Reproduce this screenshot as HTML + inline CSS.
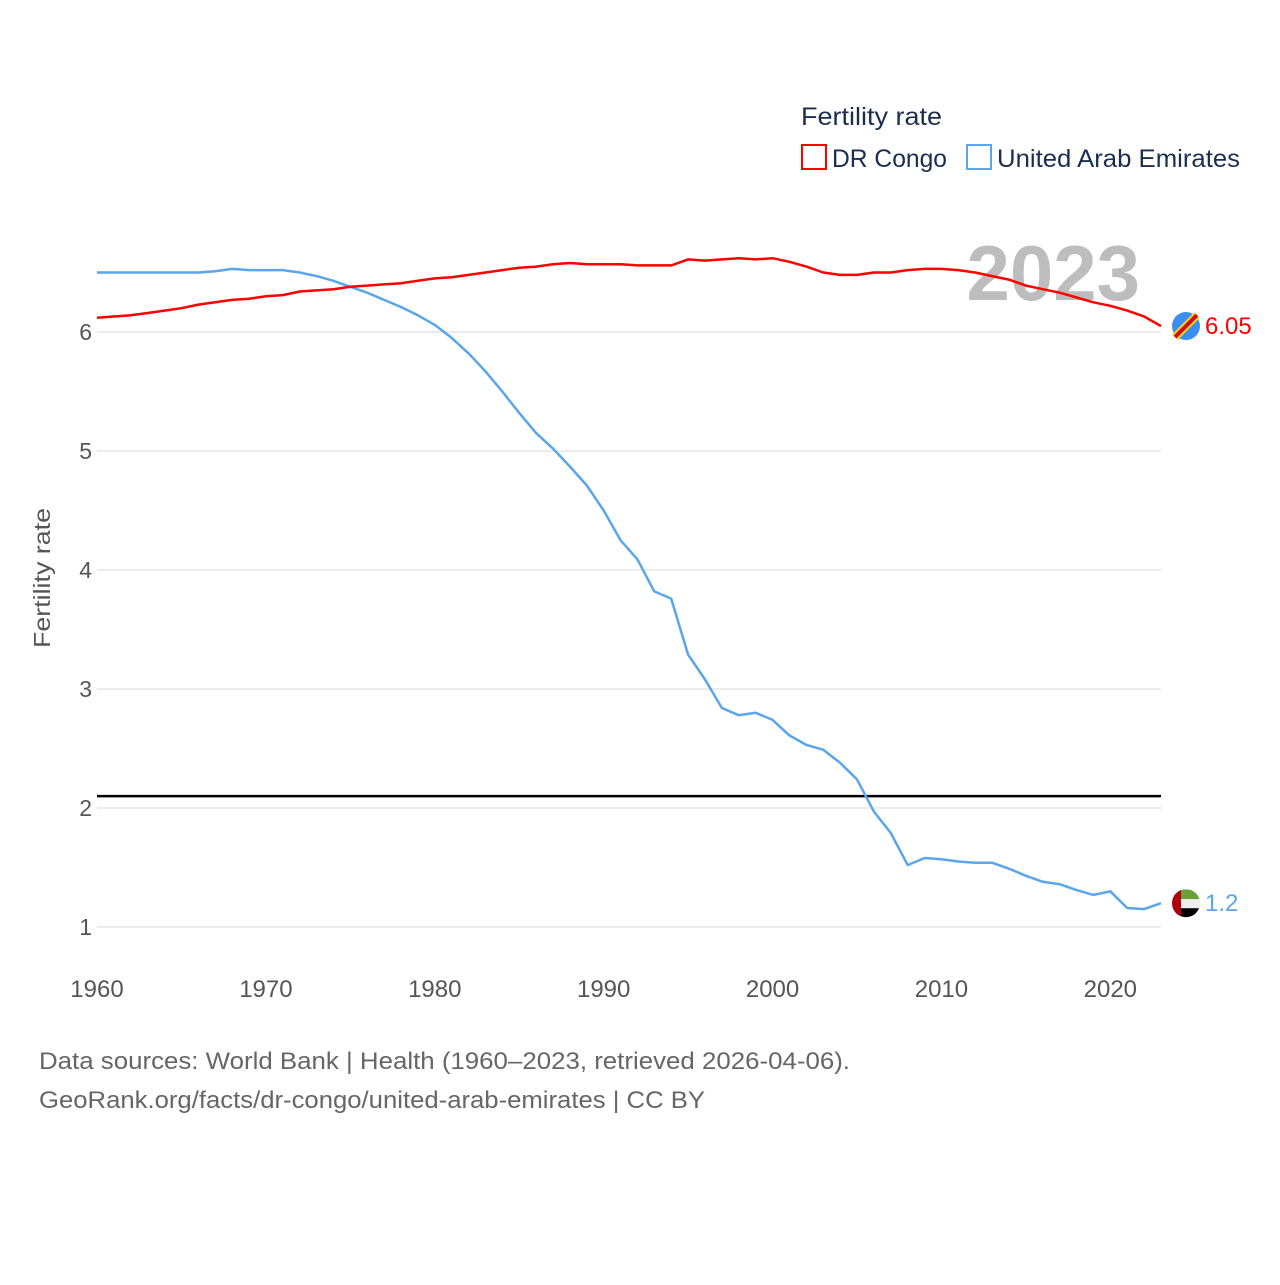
<!DOCTYPE html>
<html><head><meta charset="utf-8"><style>
body{margin:0;background:#fff;font-family:"Liberation Sans",sans-serif;}
svg text{font-family:"Liberation Sans",sans-serif;}
</style></head><body>
<svg id="chart" width="1280" height="1280" viewBox="0 0 1280 1280" xmlns="http://www.w3.org/2000/svg">
<text x="801" y="125" font-size="25" fill="#1a2e4f" textLength="141" lengthAdjust="spacingAndGlyphs">Fertility rate</text>
<rect x="802" y="145" width="24" height="24" fill="none" stroke="#ff0000" stroke-width="2"/>
<text x="832" y="167" font-size="25" fill="#1a2e4f" textLength="115" lengthAdjust="spacingAndGlyphs">DR Congo</text>
<rect x="967" y="145" width="24" height="24" fill="none" stroke="#5aa6ec" stroke-width="2"/>
<text x="997" y="167" font-size="25" fill="#1a2e4f" textLength="243" lengthAdjust="spacingAndGlyphs">United Arab Emirates</text>
<text x="1140" y="300" font-size="78" font-weight="bold" fill="#bdbdbd" text-anchor="end">2023</text>
<g id="grid"></g><g id="series"></g>
<text transform="translate(50,578) rotate(-90)" font-size="23" fill="#555" text-anchor="middle" textLength="140" lengthAdjust="spacingAndGlyphs">Fertility rate</text>
<text x="39" y="1069" font-size="24" fill="#666" textLength="811" lengthAdjust="spacingAndGlyphs">Data sources: World Bank | Health (1960–2023, retrieved 2026-04-06).</text>
<text x="39" y="1108" font-size="24" fill="#666" textLength="666" lengthAdjust="spacingAndGlyphs">GeoRank.org/facts/dr-congo/united-arab-emirates | CC BY</text>
</svg>
<script>
const years=[];for(let y=1960;y<=2023;y++)years.push(y);
const drCongo=[6.12,6.13,6.14,6.16,6.18,6.20,6.23,6.25,6.27,6.28,6.30,6.31,6.34,6.35,6.36,6.38,6.39,6.40,6.41,6.43,6.45,6.46,6.48,6.50,6.52,6.54,6.55,6.57,6.58,6.57,6.57,6.57,6.56,6.56,6.56,6.61,6.60,6.61,6.62,6.61,6.62,6.59,6.55,6.50,6.48,6.48,6.50,6.50,6.52,6.53,6.53,6.52,6.50,6.47,6.44,6.39,6.36,6.33,6.29,6.25,6.22,6.18,6.13,6.05];
const uae=[6.50,6.50,6.50,6.50,6.50,6.50,6.50,6.51,6.53,6.52,6.52,6.52,6.50,6.47,6.43,6.38,6.33,6.27,6.21,6.14,6.06,5.95,5.82,5.67,5.50,5.32,5.15,5.02,4.87,4.71,4.50,4.25,4.09,3.82,3.76,3.29,3.08,2.84,2.78,2.80,2.74,2.61,2.53,2.49,2.38,2.24,1.97,1.79,1.52,1.58,1.57,1.55,1.54,1.54,1.49,1.43,1.38,1.36,1.31,1.27,1.30,1.16,1.15,1.20];
const yTicks=[1,2,3,4,5,6];
const xTicks=[1960,1970,1980,1990,2000,2010,2020];
const replacement=2.1;
const NS="http://www.w3.org/2000/svg";
const X=v=>97+(v-1960)*(1161-97)/63;
const Y=v=>927-(v-1)*119;
function mk(tag,attrs,parent){const e=document.createElementNS(NS,tag);for(const k in attrs)e.setAttribute(k,attrs[k]);parent.appendChild(e);return e;}
const grid=document.getElementById('grid'),ser=document.getElementById('series');
yTicks.forEach(t=>{
 const l=mk('line',{x1:97,x2:1161,y1:Y(t),y2:Y(t),stroke:'#e6e6e6','stroke-width':1.5},grid);
 
 
 const tx=mk('text',{x:92,y:Y(t)+8,'font-size':23,fill:'#555','text-anchor':'end'},grid);
 
 
 tx.textContent=t;
});
xTicks.forEach(t=>{
 const tx=mk('text',{x:X(t),y:997,'font-size':24,fill:'#555','text-anchor':'middle'},grid);
 
 
 tx.textContent=t;
});
const rl=mk('line',{x1:97,x2:1161,y1:Y(replacement),y2:Y(replacement),stroke:'#000','stroke-width':2.5},grid);


function line(vals,color,name){
 const d=vals.map((v,i)=>(i?'L':'M')+X(years[i]).toFixed(1)+','+Y(v).toFixed(1)).join('');
 const p=mk('path',{d:d,fill:'none',stroke:color,'stroke-width':2.5,'stroke-linejoin':'round'},ser);
 
 
}
line(uae,'#5aa6ec','uae-line');
line(drCongo,'#ff0000','dr-congo-line');
const lastC=drCongo[drCongo.length-1],lastU=uae[uae.length-1];
const fc=mk('g',{},ser);


const cy1=Y(lastC);
mk('circle',{cx:1186,cy:cy1,r:14,fill:'#3a8ef0'},fc);
mk('line',{x1:1175,y1:cy1+11,x2:1197,y2:cy1-11,stroke:'#f7d618','stroke-width':8},fc);
mk('line',{x1:1175,y1:cy1+11,x2:1197,y2:cy1-11,stroke:'#ce1021','stroke-width':4},fc);
const lc=mk('text',{x:1205,y:cy1+8,'font-size':24,fill:'#ff0000'},ser);


lc.textContent=lastC.toFixed(2);
const cy2=Y(lastU);
const fu=mk('g',{},ser);


const cp=mk('clipPath',{id:'cu'},fu);
mk('circle',{cx:1186,cy:cy2,r:14},cp);
const gg=mk('g',{'clip-path':'url(#cu)'},fu);
mk('rect',{x:1172,y:cy2-14,width:28,height:10,fill:'#6a9f3a'},gg);
mk('rect',{x:1172,y:cy2-4,width:28,height:9,fill:'#eeeeee'},gg);
mk('rect',{x:1172,y:cy2+5,width:28,height:10,fill:'#000'},gg);
mk('rect',{x:1172,y:cy2-14,width:9,height:28,fill:'#b00010'},gg);
const lu=mk('text',{x:1205,y:cy2+8,'font-size':24,fill:'#5aa6ec'},ser);


lu.textContent=String(lastU.toFixed(1));
</script>
</body></html>
